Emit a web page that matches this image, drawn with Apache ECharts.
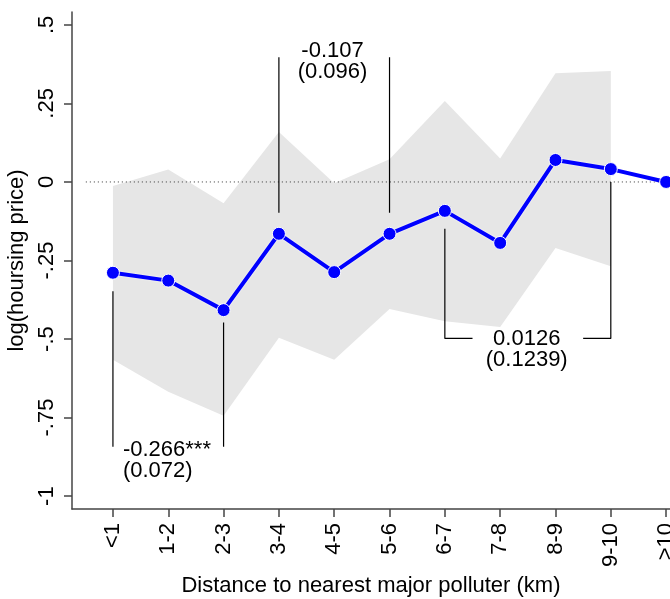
<!DOCTYPE html>
<html>
<head>
<meta charset="utf-8">
<script src="https://cdn.jsdelivr.net/npm/echarts@6/dist/echarts.min.js"></script>
<style>
    html, body { margin: 0; padding: 0; background: #fff; }
    #chart { width: 670px; height: 599px; }
</style>
</head>
<body>
<div id="chart"></div>
<script>
    // categories (distance bins) and estimates
    var CATEGORIES = ['<1', '1-2', '2-3', '3-4', '4-5', '5-6', '6-7', '7-8', '8-9', '9-10', '>10'];
    var ESTIMATES = [-0.289, -0.314, -0.408, -0.165, -0.287, -0.165, -0.092, -0.194, 0.070, 0.041, 0];
    // confidence band, first 10 bins only (>10 is the reference)
    var BAND_UPPER = [-0.013, 0.040, -0.068, 0.159, -0.004, 0.072, 0.258, 0.075, 0.346, 0.353];
    var BAND_LOWER = [-0.566, -0.668, -0.744, -0.496, -0.566, -0.404, -0.443, -0.462, -0.210, -0.268];

    var Y_TICKS = [-1, -0.75, -0.5, -0.25, 0, 0.25, 0.5];
    var Y_TICK_LABELS = ['-1', '-.75', '-.5', '-.25', '0', '.25', '.5'];

    // reference line at zero
    var ZERO_LINE_X = [0.51, 11.07];

    // annotation brackets (x = bin number, y = value)
    var BRACKETS = [
        [[1, -0.348], [1, -0.843]],
        [[3, -0.447], [3, -0.843]],
        [[4, 0.397], [4, -0.098]],
        [[6, 0.397], [6, -0.098]],
        [[7.5, -0.498], [7, -0.498], [7, -0.149]],
        [[9.5, -0.498], [10, -0.498], [10, 0.0]]
    ];
    var NOTES = [
        {x: 1.18, y: -0.885, text: '-0.266***\n(0.072)', align: 'left'},
        {x: 4.97, y: 0.384, text: '-0.107\n(0.096)', align: 'center'},
        {x: 8.48, y: -0.532, text: '0.0126\n(0.1239)', align: 'center'}
    ];

    var FONT = 'Liberation Sans, Arial, Helvetica, sans-serif';
    var xs = CATEGORIES.map(function (c, i) { return i + 1; });

    var chart = echarts.init(document.getElementById('chart'));

    var series = [];

    // grey confidence band
    series.push({
        type: 'custom',
        z: 1,
        silent: true,
        data: BAND_UPPER.map(function (u, i) { return [i + 1, u, BAND_LOWER[i]]; }),
        renderItem: function (params, api) {
            if (params.dataIndex !== 0) return;
            var pts = [];
            for (var i = 0; i < BAND_UPPER.length; i++) pts.push(api.coord([i + 1, BAND_UPPER[i]]));
            for (var j = BAND_LOWER.length - 1; j >= 0; j--) pts.push(api.coord([j + 1, BAND_LOWER[j]]));
            return {
                type: 'polygon',
                shape: {points: pts},
                style: {fill: '#e6e6e6', stroke: null}
            };
        }
    });

    // dotted zero line
    series.push({
        type: 'line',
        z: 2,
        silent: true,
        symbol: 'none',
        data: ZERO_LINE_X.map(function (x) { return [x, 0]; }),
        lineStyle: {color: '#333', width: 1, type: [1, 3]}
    });

    BRACKETS.forEach(function (b) {
        series.push({
            type: 'line',
            z: 3,
            silent: true,
            symbol: 'none',
            data: b,
            lineStyle: {color: '#000', width: 1.2}
        });
    });

    // point estimates
    series.push({
        type: 'line',
        z: 5,
        data: xs.map(function (x, i) { return [x, ESTIMATES[i]]; }),
        symbol: 'circle',
        symbolSize: 13,
        clip: false,
        lineStyle: {color: '#0000ff', width: 4, shadowColor: '#fff', shadowBlur: 2},
        itemStyle: {color: '#0000ff', borderColor: '#fff', borderWidth: 1}
    });

    // coefficient text
    NOTES.forEach(function (n) {
        series.push({
            type: 'scatter',
            z: 6,
            silent: true,
            symbolSize: 0,
            itemStyle: {opacity: 1},
            data: [[n.x, n.y]],
            label: {
                show: true,
                position: 'inside',
                formatter: n.text,
                color: '#000',
                opacity: 1,
                fontSize: 22,
                lineHeight: 21,
                fontFamily: FONT,
                align: n.align,
                verticalAlign: 'middle'
            }
        });
    });

    var option = {
        animation: false,
        backgroundColor: '#fff',
        grid: {left: 72, right: 0, top: 12, bottom: 90, containLabel: false, outerBoundsMode: 'none'},
        xAxis: {
            type: 'value',
            min: 0.26,
            max: 11.07,
            name: 'Distance to nearest major polluter (km)',
            nameLocation: 'middle',
            nameGap: 66,
            nameTextStyle: {color: '#000', fontSize: 22, fontFamily: FONT},
            splitLine: {show: false},
            axisLine: {show: true, onZero: false, lineStyle: {color: '#444', width: 1.5}},
            axisTick: {show: true, length: 8, customValues: xs, lineStyle: {color: '#444', width: 1.5}},
            axisLabel: {
                customValues: xs,
                rotate: 90,
                margin: 14,
                color: '#000',
                fontSize: 22,
                fontFamily: FONT,
                formatter: function (v) { return CATEGORIES[Math.round(v) - 1]; }
            }
        },
        yAxis: {
            type: 'value',
            min: -1.041,
            max: 0.541,
            name: 'log(hoursing price)',
            nameLocation: 'middle',
            nameGap: 37,
            nameTextStyle: {color: '#000', fontSize: 22, fontFamily: FONT},
            splitLine: {show: false},
            axisLine: {show: true, onZero: false, lineStyle: {color: '#444', width: 1.5}},
            axisTick: {show: true, length: 8, customValues: Y_TICKS, lineStyle: {color: '#444', width: 1.5}},
            axisLabel: {
                customValues: Y_TICKS,
                rotate: 90,
                margin: 14,
                color: '#000',
                fontSize: 22,
                fontFamily: FONT,
                formatter: function (v) {
                    var k = Y_TICKS.indexOf(Math.round(v * 100) / 100);
                    return k >= 0 ? Y_TICK_LABELS[k] : '';
                }
            }
        },
        series: series
    };
    option && chart.setOption(option);
</script>
</body>
</html>
